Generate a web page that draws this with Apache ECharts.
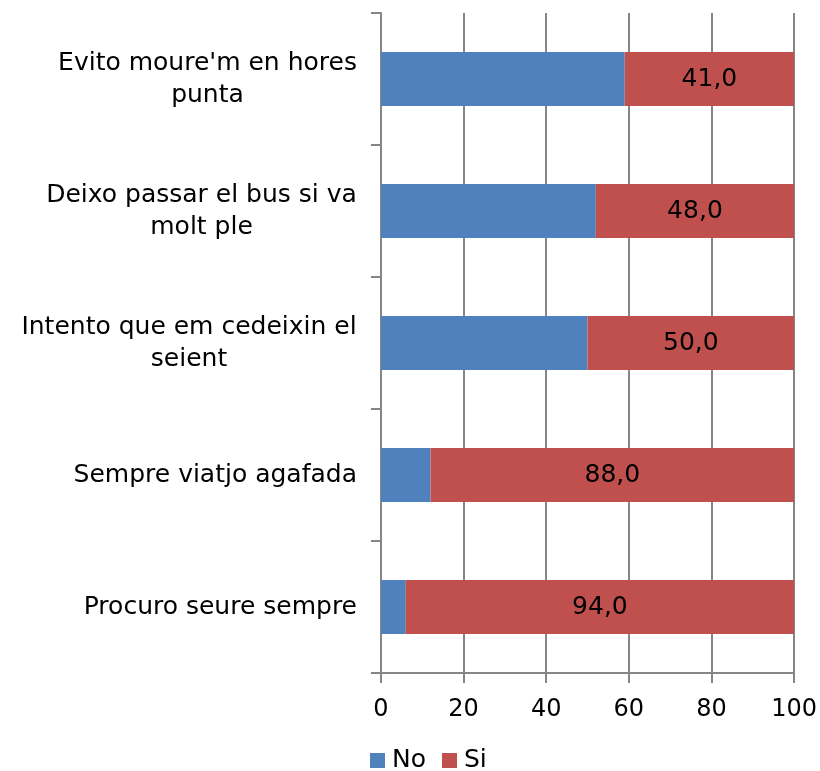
<!DOCTYPE html>
<html>
<head>
<meta charset="utf-8">
<title></title>
<script src="https://cdn.jsdelivr.net/npm/echarts@6/dist/echarts.min.js"></script>
</head>
<body style="margin:0">
<div id="main" style="width:820px;height:771px;"></div>
<script type="text/javascript">
// categories, top to bottom
var categories = [
    "Evito moure'm en hores\npunta",
    "Deixo passar el bus si va\nmolt ple",
    "Intento que em cedeixin el\nseient",
    "Sempre viatjo agafada",
    "Procuro seure sempre"
];
var noValues = [59, 52, 50, 12, 6];
var siValues = [41, 48, 50, 88, 94];
var xTicks = [0, 20, 40, 60, 80, 100];

var font = 'DejaVu Sans';
var labelSize = 25;

// measure lines so each wrapped label is centred inside its own block
var ctx = document.createElement('canvas').getContext('2d');
ctx.font = labelSize + 'px "' + font + '"';
var rich = {};
var labelText = {};
categories.forEach(function (c, i) {
    var lines = c.split('\n');
    if (lines.length < 2) { labelText[c] = c; return; }
    var w = 0;
    lines.forEach(function (l) { w = Math.max(w, ctx.measureText(l).width); });
    rich['c' + i] = { width: Math.ceil(w), align: 'center', fontSize: labelSize, fontFamily: font, color: '#000', lineHeight: 32 };
    labelText[c] = lines.map(function (l) { return '{c' + i + '|' + l + '}'; }).join('\n');
});

var myChart = echarts.init(document.getElementById('main'));
var option = {
    animation: false,
    textStyle: { fontFamily: font },
    grid: { left: 381, right: 25, top: 13, bottom: 98, containLabel: false },
    legend: {
        left: 370, top: 748, padding: 0,
        itemWidth: 15, itemHeight: 15, itemGap: 16,
        icon: 'rect',
        textStyle: { fontSize: 25, color: '#000', fontFamily: font, padding: [0, 0, 0, 2] },
        data: ['No', 'Si']
    },
    xAxis: {
        type: 'value', min: 0, max: 100, interval: 20,
        axisLine: { show: true, lineStyle: { color: '#868686', width: 2 } },
        axisTick: { show: true, length: 10, lineStyle: { color: '#868686', width: 2 } },
        splitLine: { show: true, lineStyle: { color: '#868686', width: 2 } },
        axisLabel: {
            color: '#000', fontSize: 24, margin: 25, fontFamily: font,
            formatter: function (v) { return xTicks.indexOf(v) >= 0 ? String(v) : ''; }
        }
    },
    yAxis: {
        type: 'category', inverse: true, data: categories,
        axisLine: { show: true, lineStyle: { color: '#868686', width: 2 } },
        axisTick: { show: true, length: 10, lineStyle: { color: '#868686', width: 2 } },
        axisLabel: {
            color: '#000', fontSize: labelSize, fontFamily: font, margin: 24,
            align: 'right', lineHeight: 32,
            formatter: function (v) { return labelText[v]; },
            rich: rich
        }
    },
    series: [
        {
            name: 'No', type: 'bar', stack: 'a', data: noValues, barWidth: 54,
            itemStyle: { color: '#4F81BD' }
        },
        {
            name: 'Si', type: 'bar', stack: 'a', data: siValues, barWidth: 54,
            itemStyle: { color: '#C0504D' },
            label: {
                show: true, position: 'inside', color: '#000', fontSize: 25, fontFamily: font,
                formatter: function (p) { return p.value.toFixed(1).replace('.', ','); }
            }
        }
    ]
};
myChart.setOption(option);
</script>
</body>
</html>
